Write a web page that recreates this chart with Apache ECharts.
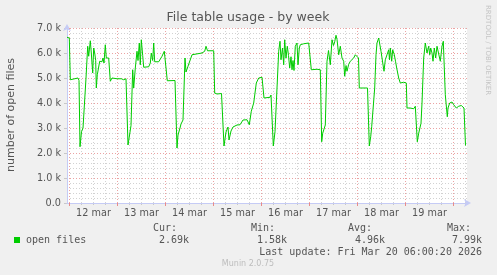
<!DOCTYPE html>
<html><head><meta charset="utf-8">
<script src="https://cdn.jsdelivr.net/npm/echarts@6/dist/echarts.min.js"></script>
<style>html,body{margin:0;padding:0;background:#F0F0F0}#c{width:497px;height:275px}</style>
</head><body><div id="c"></div>
<script>
// hours since 12 mar 00:00
const hours = [
 -1.25, -0.1, 0.4, 1.25, 4.25, 4.75,
 5.25, 6, 6.75, 8.25, 9.1, 9.6, 10.4, 10.9, 11.6, 12.1,
 12.6, 13.1, 13.4, 13.9, 14.6, 15.1, 15.75, 16.25, 16.75, 17.25,
 17.9, 18.4, 19.1, 19.6, 20.4, 21.25, 23.75, 24.6, 25.9, 27.1,
 28.25, 28.75, 29.25, 30.25, 30.75, 31.6, 32.1, 32.9, 33.75, 34.25,
 34.9, 35.4, 35.9, 36.6, 37.1, 39.6, 40.4, 40.9, 41.6, 42.1,
 42.6, 43.4, 44.6, 46.25, 47.4, 48.25, 48.9, 49.25, 52.75, 53.75,
 54.25, 55.25, 55.75, 56.75, 57.75, 58.25, 59.25, 60.25, 61.25, 62,
 66.25, 67.6, 68.25, 69, 72.1, 72.6, 73.75, 76, 76.75, 77.25,
 78.25, 79.25, 79.75, 80.75, 81.75, 82.75, 83.75, 85.25, 86.75, 87.75,
 88.75, 89.9, 90.9, 92.1, 93.4, 94.6, 96.25, 96.6, 97.25, 100.25,
 100.75, 101.25, 101.9, 102.75, 103.6, 104.6, 105.25, 105.75, 106.5, 107.1,
 107.6, 108.25, 108.9, 109.5, 110.1, 110.75, 111.25, 111.75, 112.25, 112.9,
 113.75, 114.25, 114.9, 115.4, 117.1, 119.6, 120.4, 120.9, 123.75, 124.75,
 125.4, 126.1, 126.6, 127.25, 127.9, 128.75, 129.5, 130.4, 131.25, 132,
 132.6, 133.25, 133.75, 134.6, 135.4, 136.25, 137.1, 137.6, 138.25, 138.75,
 139.6, 140.4, 141.25, 142.1, 142.9, 143.75, 144.5, 144.9, 149, 149.4,
 149.9, 150.6, 151.1, 152.6, 153.25, 153.75, 154.6, 155.1, 155.75, 156.25,
 156.75, 157.25, 157.9, 158.75, 159.6, 160, 160.4, 161.1, 161.6, 162.4,
 163, 163.6, 164.1, 164.6, 165.4, 167.1, 167.9, 168.4, 168.75, 170.25,
 172.1, 172.9, 173.4, 173.9, 174.6, 175.25, 175.75, 176.25, 177.1, 177.9,
 178.75, 179.6, 180.1, 180.6, 181.25, 181.75, 182.4, 183.1, 183.75, 184.6,
 185.4, 186.25, 186.9, 187.4, 187.9, 188.9, 189.25, 190.1, 191.25, 192.1,
 193.4, 194.6, 195.9, 196.75, 197.25, 198
];
const openFiles = [
 6630, 6600, 4930, 4950, 5000, 4900,
 2250, 2850, 3000, 5000, 6270, 5870, 6490, 6000, 5200, 6200,
 6000, 5700, 4600, 5130, 5200, 5670, 5730, 5650, 5800, 5600,
 6330, 5800, 5750, 5800, 4870, 5000, 4970, 4930, 4970, 4930,
 4970, 4950, 2320, 2840, 3100, 5330, 4600, 5400, 6070, 5700,
 6400, 5530, 6530, 5900, 5430, 5450, 5600, 6000, 5700, 6400,
 5650, 5600, 5650, 5870, 6070, 6100, 4890, 4890, 4900, 2200,
 2720, 3000, 3160, 3320, 5800, 5240, 5470, 5400, 5930, 6000,
 6000, 6070, 6270, 6090, 6090, 4400, 4360, 4380, 4350, 2280,
 2840, 3040, 2520, 2880, 3040, 3060, 3120, 3130, 3320, 3350,
 3330, 3130, 3670, 4000, 4800, 5000, 5030, 5000, 4200, 4230,
 4320, 4250, 2280, 2850, 2900, 6070, 6470, 5730, 6200, 5530,
 6530, 5800, 6270, 5900, 5400, 5850, 5330, 5700, 5300, 6270,
 6400, 5530, 6200, 6330, 6370, 6400, 6440, 5330, 5350, 5400,
 5330, 2450, 2790, 2800, 3120, 5670, 6100, 5530, 6530, 6300,
 6450, 6710, 6550, 5930, 6270, 5800, 5670, 5070, 5500, 5270,
 5550, 5670, 5730, 5800, 5930, 5870, 5800, 4600, 4600, 4620,
 2280, 2650, 3050, 4600, 5930, 6400, 6600, 6670, 6070, 6130,
 6000, 5270, 5730, 5930, 6130, 5730, 6200, 5670, 6130, 5930,
 5670, 5400, 5330, 5000, 4800, 4830, 4890, 4800, 3800, 3800,
 3770, 3870, 3800, 2450, 2790, 2830, 3190, 4000, 5800, 6400,
 6000, 6270, 5930, 6200, 6000, 5670, 6200, 5800, 6270, 6330,
 5670, 6270, 6470, 5400, 4330, 3450, 3800, 4000, 4040, 3930,
 3800, 3870, 3900, 3930, 3800, 2300
];
const dayLabels = ['12 mar','13 mar','14 mar','15 mar','16 mar','17 mar','18 mar','19 mar'];
const midnights = [0, 24, 48, 72, 96, 120, 144, 168, 192];
const sixHours = [];
for (let h = 6; h <= 198; h += 6) if (h % 24 !== 0) sixHours.push(h);
const noons = dayLabels.map((_, i) => 12 + 24 * i);
const statNames = ['Cur:', 'Min:', 'Avg:', 'Max:'];
const statValues = ['2.69k', '1.58k', '4.96k', '7.99k'];
const seriesName = 'open files';
const titleText = 'File table usage - by week';
const yName = 'number of open files';
const lastUpdate = 'Last update: Fri Mar 20 06:00:20 2026';
const footer = 'Munin 2.0.75';
const sideText = 'RRDTOOL / TOBI OETIKER';

const F = 'DejaVu Sans';
const M = 'DejaVu Sans Mono';
const txt = '#555';
const axisCol = '#c5cbf5';
const majorGrid = '#eba3a3';
const minorGrid = '#d2d2d2';
const XMIN = -1.25, XMAX = 198.75;

const chart = echarts.init(document.getElementById('c'), null, {renderer: 'canvas'});
const statX = [177, 275, 372, 471];
const valX = [189, 287, 385, 482];
const graphics = [
  {type:'text', x:248, y:18, style:{text:titleText, font:'12.5px "'+F+'"', fill:txt, textAlign:'center', textVerticalAlign:'middle'}},
  {type:'text', x:11, y:115, rotation:Math.PI/2, style:{text:yName, font:'11px "'+F+'"', fill:txt, textAlign:'center', textVerticalAlign:'middle'}},
  {type:'text', x:488, y:5, rotation:-Math.PI/2, style:{text:sideText, font:'7px "'+F+'"', fill:'#c4c4c4', textAlign:'left', textVerticalAlign:'middle'}},
  {type:'rect', shape:{x:14, y:237, width:6, height:6}, style:{fill:'#00cc00'}},
  {type:'text', x:26, y:240, style:{text:seriesName, font:'10px "'+M+'"', fill:txt, textAlign:'left', textVerticalAlign:'middle'}},
  {type:'text', x:482, y:252, style:{text:lastUpdate, font:'10px "'+M+'"', fill:txt, textAlign:'right', textVerticalAlign:'middle'}},
  {type:'text', x:248, y:264, style:{text:footer, font:'8px "'+F+'"', fill:'#bdbdbd', textAlign:'center', textVerticalAlign:'middle'}}
];
statNames.forEach((s, i) => {
  graphics.push({type:'text', x:statX[i], y:228, style:{text:s, font:'10px "'+M+'"', fill:txt, textAlign:'right', textVerticalAlign:'middle'}});
  graphics.push({type:'text', x:valX[i], y:240, style:{text:statValues[i], font:'10px "'+M+'"', fill:txt, textAlign:'right', textVerticalAlign:'middle'}});
});

chart.setOption({
  animation: false,
  backgroundColor: '#F0F0F0',
  grid: {left:67, top:28, width:400, height:175, show:true, backgroundColor:'#ffffff', borderWidth:0},
  xAxis: [
    {
      type:'value', position:'bottom', min:XMIN, max:XMAX, z:1,
      axisLine:{show:false, onZero:false},
      axisTick:{show:true, customValues:sixHours, length:2, lineStyle:{color:'#c8c8c8'}},
      axisLabel:{show:false},
      splitLine:{show:true, lineStyle:{color:minorGrid, type:[1,2], width:1}}
    },
    {
      type:'value', position:'bottom', offset:0, min:XMIN, max:XMAX, z:3,
      axisLine:{show:true, onZero:false, symbol:['none','arrow'], symbolSize:[6,7], symbolOffset:[0,4], lineStyle:{color:axisCol, width:1}},
      axisTick:{show:true, customValues:midnights, length:3, lineStyle:{color:'#e88a8a'}},
      axisLabel:{show:true, customValues:noons, margin:5, fontFamily:F, fontSize:9.7, color:txt,
        formatter:(v) => dayLabels[Math.round((v - 12) / 24)]},
      splitLine:{show:true, lineStyle:{color:majorGrid, type:[1,2], width:1}}
    }
  ],
  yAxis: {
    type:'value', min:0, max:7000, interval:1000,
    axisLine:{show:true, onZero:false, symbol:['none','arrow'], symbolSize:[6,7], symbolOffset:[0,4], lineStyle:{color:axisCol, width:1}},
    axisTick:{show:true, length:3, lineStyle:{color:'#c8c8c8'}},
    axisLabel:{margin:6, fontFamily:F, fontSize:9.7, color:txt,
      formatter:(v) => v === 0 ? '0.0' : (v/1000).toFixed(1) + ' k'},
    splitLine:{show:true, lineStyle:{color:majorGrid, type:[1,2], width:1}},
    minorTick:{show:false, splitNumber:5},
    minorSplitLine:{show:true, lineStyle:{color:minorGrid, type:[1,2], width:1}}
  },
  series: [{
    type:'line', name:seriesName, xAxisIndex:1,
    data: hours.map((h, i) => [h, openFiles[i]]),
    showSymbol:false, symbol:'none',
    lineStyle:{color:'#00cc00', width:1},
    z:5
  }],
  graphic: graphics
});
</script></body></html>
